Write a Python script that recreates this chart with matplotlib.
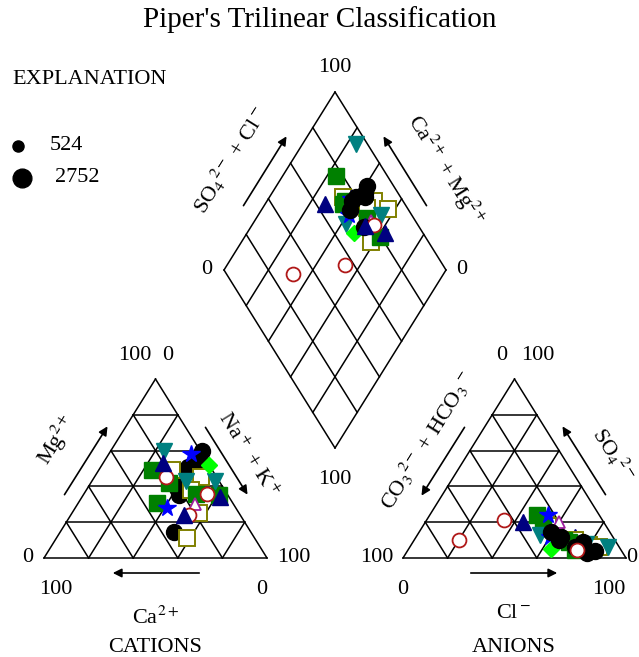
"""Piper trilinear diagram of major-ion chemistry"""

import numpy as np
from matplotlib import pyplot as plt

plt.rcParams['font.family'] = ['Liberation Serif', 'DejaVu Serif']
plt.rcParams['mathtext.fontset'] = 'stix'

# Sample chemistry in percent of meq/L, grouped by plotting symbol.
# cations: Mg and Na+K (Ca is the rest); anions: SO4 and Cl (CO3+HCO3 is the rest)
black_mg = [60, 55, 51, 48, 39, 35, 14.5]
black_nak = [41, 42, 39, 38, 40, 43, 51]
black_so4 = [4, 9, 6, 12, 14.5, 3, 10]
black_cl = [84, 76, 74, 65, 59, 81, 65]

olive_mg = [45, 38, 25, 11, 49]
olive_nak = [48, 47, 57, 58.5, 33]
olive_so4 = [7, 10, 6, 20, 18]
olive_cl = [80, 72, 85, 54, 56]

green_mg = [49, 42, 36, 35, 31]
green_nak = [24, 35, 50, 61, 35]
green_so4 = [10, 24, 9, 4.5, 22]
green_cl = [67, 48, 70, 75, 52]

teal_mg = [60, 43, 43]
teal_nak = [24, 42, 55]
teal_so4 = [6, 13, 8]
teal_cl = [89, 55, 78]

red_mg = [45, 24, 36]
red_nak = [32, 53, 55]
red_so4 = [10, 21, 4.5]
red_cl = [20, 35, 76]

navy_mg = [53, 34, 24]
navy_nak = [27, 62, 51]
navy_so4 = [20, 12, 12]
navy_cl = [44, 71, 64]

star_mg = [58, 28]
star_nak = [37, 41]
star_so4 = [24, 12]
star_cl = [53, 60]

purple_mg = [30]
purple_nak = [52.5]
purple_so4 = [20]
purple_cl = [60]

lime_mg = [52]
lime_nak = [48]
lime_so4 = [5]
lime_cl = [64]

legend_tds = ["524", "2752"]

# Figure layout (pixel coordinates of the frame vertices)
CAT = np.array([[44, 558], [267, 558], [155.5, 379]])    # left, right, top
AN = np.array([[403, 558], [626, 558], [514.5, 379]])
DIA_B = np.array([335, 448])
DIA_L = np.array([224, 270])
DIA_R = np.array([446, 270])

fig = plt.figure(figsize=(6.39, 6.57), dpi=100)
ax = fig.add_axes([0, 0, 1, 1])
ax.set_xlim(0, 639)
ax.set_ylim(657, 0)
ax.axis('off')


def tri_xy(tri, top, right):
    top = np.asarray(top) / 100.0
    right = np.asarray(right) / 100.0
    left = 1 - top - right
    pts = np.outer(left, tri[0]) + np.outer(right, tri[1]) + np.outer(top, tri[2])
    return pts[:, 0], pts[:, 1]


def dia_xy(nak, so4, cl):
    c = 1 - np.asarray(nak) / 100.0
    s = (np.asarray(so4) + np.asarray(cl)) / 100.0
    pts = DIA_B + np.outer(s, DIA_R - DIA_B) + np.outer(c, DIA_L - DIA_B)
    return pts[:, 0], pts[:, 1]


def seg(a, b):
    ax.plot([a[0], b[0]], [a[1], b[1]], color='k', lw=1.1, zorder=1)


def draw_triangle(tri):
    L, R, T = tri
    seg(L, R)
    seg(R, T)
    seg(T, L)
    for f in [0.2, 0.4, 0.6, 0.8]:
        seg(L + f * (T - L), R + f * (T - R))
        seg(L + f * (R - L), T + f * (R - T))
        seg(R + f * (L - R), T + f * (L - T))


def draw_diamond():
    T = DIA_L + DIA_R - DIA_B
    for a, b in [(DIA_B, DIA_R), (DIA_R, T), (T, DIA_L), (DIA_L, DIA_B)]:
        seg(a, b)
    for f in [0.2, 0.4, 0.6, 0.8]:
        a = DIA_B + f * (DIA_R - DIA_B)
        seg(a, a + (DIA_L - DIA_B))
        a = DIA_B + f * (DIA_L - DIA_B)
        seg(a, a + (DIA_R - DIA_B))


draw_triangle(CAT)
draw_triangle(AN)
draw_diamond()

# drawing order matters: later groups sit on top
groups = [
    (olive_mg, olive_nak, olive_so4, olive_cl, dict(marker='s', ms=11, mfc='white', mec='#808000', mew=1.4)),
    (green_mg, green_nak, green_so4, green_cl, dict(marker='s', ms=11, mfc='#008000', mec='#008000')),
    (teal_mg, teal_nak, teal_so4, teal_cl, dict(marker='v', ms=11, mfc='#008080', mec='#008080')),
    (lime_mg, lime_nak, lime_so4, lime_cl, dict(marker='D', ms=8, mfc='#00FF00', mec='#00FF00')),
    (star_mg, star_nak, star_so4, star_cl, dict(marker='*', ms=13, mfc='#0000FF', mec='#0000FF')),
    (purple_mg, purple_nak, purple_so4, purple_cl, dict(marker='^', ms=9, mfc='white', mec='#A020A0', mew=1.3)),
    (black_mg, black_nak, black_so4, black_cl, dict(marker='o', ms=11.5, mfc='k', mec='k')),
    (red_mg, red_nak, red_so4, red_cl, dict(marker='o', ms=10, mfc='white', mec='#B01818', mew=1.3)),
    (navy_mg, navy_nak, navy_so4, navy_cl, dict(marker='^', ms=11, mfc='#000080', mec='#000080')),
]

for mg, nak, so4, cl, style in groups:
    # black circles sit under the other symbols in the cation triangle,
    # navy triangles sit under them in the anion triangle
    z_cat = 1.5 if style['mfc'] == 'k' else 2
    z_an = 1.5 if style['mfc'] == '#000080' else 2
    x, y = tri_xy(CAT, mg, nak)
    ax.plot(x, y, ls='none', zorder=z_cat, **style)
    x, y = tri_xy(AN, so4, cl)
    ax.plot(x, y, ls='none', zorder=z_an, **style)
    x, y = dia_xy(nak, so4, cl)
    ax.plot(x, y, ls='none', zorder=2, **style)

fs = 16
ax.text(320, 20, "Piper's Trilinear Classification", fontsize=21, ha='center', va='center')

# scale numbers
for x, y, s in [(135, 355, '100'), (168, 355, '0'), (28, 558, '0'), (294, 558, '100'),
                (56, 590, '100'), (262, 590, '0'),
                (502, 355, '0'), (538, 355, '100'), (377, 558, '100'), (632, 558, '0'),
                (403, 590, '0'), (609, 590, '100'),
                (335, 68, '100'), (207, 270, '0'), (462, 270, '0'), (335, 480, '100')]:
    ax.text(x, y, s, fontsize=fs, ha='center', va='center')

# axis labels
ax.text(57, 440, r'Mg$^{2+}$', fontsize=fs, rotation=58, ha='center', va='center')
ax.text(248, 455, r'Na$^+$ + K$^+$', fontsize=fs, rotation=-58, ha='center', va='center')
ax.text(155, 618, r'Ca$^{2+}$', fontsize=fs, ha='center', va='center')
ax.text(155, 647, 'CATIONS', fontsize=fs, ha='center', va='center')
ax.text(427, 440, r'CO$_3$$^{2-}$ + HCO$_3$$^-$', fontsize=fs, rotation=58, ha='center', va='center')
ax.text(613, 455, r'SO$_4$$^{2-}$', fontsize=fs, rotation=-58, ha='center', va='center')
ax.text(514, 614, r'Cl$^-$', fontsize=fs, ha='center', va='center')
ax.text(514, 647, 'ANIONS', fontsize=fs, ha='center', va='center')
ax.text(230, 160, r'SO$_4$$^{2-}$ + Cl$^-$', fontsize=fs, rotation=58, ha='center', va='center')
ax.text(446, 170, r'Ca$^{2+}$ + Mg$^{2+}$', fontsize=fs, rotation=-58, ha='center', va='center')

# arrows
arrow = dict(arrowstyle='-|>', color='k', lw=1.2, mutation_scale=13)
for tail, head in [((202, 573), (110, 573)), ((63, 497), (109, 424)), ((204, 425), (249, 497)),
                   ((468, 573), (560, 573)), ((466, 425), (420, 498)), ((607, 497), (561, 424)),
                   ((242, 208), (288, 134)), ((428, 208), (382, 134))]:
    ax.annotate('', xy=head, xytext=tail, arrowprops=arrow)

# explanation
ax.text(12, 80, 'EXPLANATION', fontsize=fs, ha='left', va='center')
ax.plot([18], [146], 'o', color='k', ms=8)
ax.plot([22], [178], 'o', color='k', ms=13.5)
ax.text(50, 146, legend_tds[0], fontsize=fs, ha='left', va='center')
ax.text(55, 178, legend_tds[1], fontsize=fs, ha='left', va='center')

fig.savefig('out.png', dpi=100)
